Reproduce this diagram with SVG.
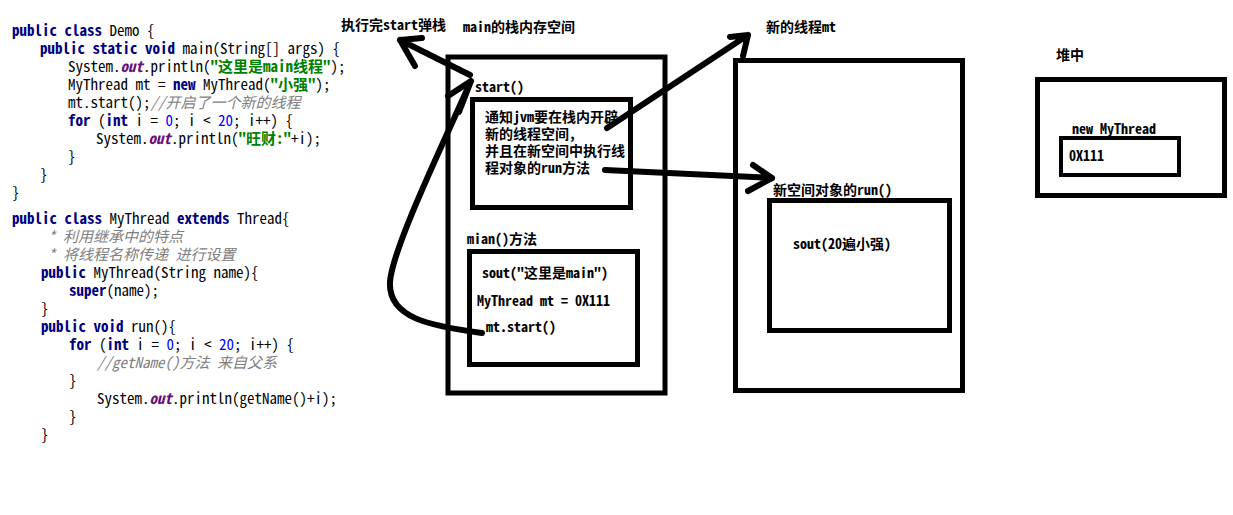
<svg xmlns="http://www.w3.org/2000/svg" width="1233" height="515" viewBox="0 0 1233 515">
<style>
.code{font-family:"Noto Sans Mono CJK SC","Liberation Mono","Noto Sans CJK SC",monospace;font-size:15px;fill:#000}
.k{fill:#000080;font-weight:bold}
.s{fill:#008000;font-weight:bold}
.n{fill:#0000ff}
.f{fill:#660e7a;font-weight:bold;font-style:italic}
.c{fill:#808080;font-style:italic}
.lbl{font-family:"Noto Sans Mono CJK SC","Liberation Mono","Noto Sans CJK SC",monospace;font-size:14px;font-weight:bold;fill:#000}
.box{fill:none;stroke:#000;stroke-width:5}
.arr{fill:none;stroke:#000;stroke-width:6;stroke-linecap:round;stroke-linejoin:round}
</style>
<rect width="1233" height="515" fill="#fff"/>
<g id="code">
<text class="code" xml:space="preserve"><tspan x="12" y="36"><tspan class="k">public class</tspan> Demo {</tspan><tspan x="40" y="54"><tspan class="k">public static void</tspan> main(String[] args) {</tspan><tspan x="68" y="72">System.<tspan class="f">out</tspan>.println(<tspan class="s">"这里是main线程"</tspan>);</tspan><tspan x="68" y="90">MyThread mt = <tspan class="k">new</tspan> MyThread(<tspan class="s">"小强"</tspan>);</tspan><tspan x="68" y="108">mt.start();<tspan class="c">//开启了一个新的线程</tspan></tspan><tspan x="68" y="126"><tspan class="k">for</tspan> (<tspan class="k">int</tspan> i = <tspan class="n">0</tspan>; i &lt; <tspan class="n">20</tspan>; i++) {</tspan><tspan x="96" y="144">System.<tspan class="f">out</tspan>.println(<tspan class="s">"旺财:"</tspan>+i);</tspan><tspan x="68" y="162">}</tspan><tspan x="40" y="180">}</tspan><tspan x="12" y="198">}</tspan></text>
<text class="code" xml:space="preserve"><tspan x="12" y="224"><tspan class="k">public class</tspan> MyThread <tspan class="k">extends</tspan> Thread{</tspan><tspan x="48" y="242" class="c">* 利用继承中的特点</tspan><tspan x="48" y="260" class="c">* 将线程名称传递 进行设置</tspan><tspan x="41" y="278"><tspan class="k">public</tspan> MyThread(String name){</tspan><tspan x="69" y="296"><tspan class="k">super</tspan>(name);</tspan><tspan x="41" y="314">}</tspan><tspan x="41" y="332"><tspan class="k">public void</tspan> run(){</tspan><tspan x="69" y="350"><tspan class="k">for</tspan> (<tspan class="k">int</tspan> i = <tspan class="n">0</tspan>; i &lt; <tspan class="n">20</tspan>; i++) {</tspan><tspan x="97" y="368" class="c">//getName()方法 来自父系</tspan><tspan x="69" y="386">}</tspan><tspan x="97" y="404">System.<tspan class="f">out</tspan>.println(getName()+i);</tspan><tspan x="69" y="422">}</tspan><tspan x="41" y="440">}</tspan></text>
</g>
<g id="main-stack">
<text class="lbl" x="463" y="32">main的栈内存空间</text>
<rect class="box" x="448" y="57" width="217" height="336"/>
</g>
<g id="start-frame">
<text class="lbl" x="475" y="92">start()</text>
<rect class="box" x="472.5" y="99.5" width="158" height="108"/>
<text class="lbl"><tspan x="485" y="122">通知jvm要在栈内开辟</tspan><tspan x="485" y="139">新的线程空间,</tspan><tspan x="485" y="156">并且在新空间中执行线</tspan><tspan x="485" y="173">程对象的run方法</tspan></text>
</g>
<g id="main-frame">
<text class="lbl" x="467" y="244">mian()方法</text>
<rect class="box" x="469.5" y="251.5" width="168" height="113"/>
<text class="lbl" x="482" y="278">sout("这里是main")</text>
<text class="lbl" x="477" y="306">MyThread mt = 0X111</text>
<text class="lbl" x="486" y="332">mt.start()</text>
</g>
<g id="popped-label">
<text class="lbl" x="341" y="30">执行完start弹栈</text>
</g>
<g id="thread-stack">
<text class="lbl" x="766" y="32">新的线程mt</text>
<rect class="box" x="735.5" y="60.5" width="227" height="330"/>
</g>
<g id="run-frame">
<text class="lbl" x="773" y="195">新空间对象的run()</text>
<rect class="box" x="769.5" y="200.5" width="180" height="130"/>
<text class="lbl" x="793" y="249">sout(20遍小强)</text>
</g>
<g id="heap">
<text class="lbl" x="1056" y="60">堆中</text>
<rect class="box" x="1037.5" y="79.5" width="187" height="116"/>
</g>
<g id="heap-object">
<text class="lbl" x="1072" y="134">new MyThread</text>
<rect class="box" x="1061" y="138" width="118" height="37" style="stroke-width:4"/>
<text class="lbl" x="1069" y="161">0X111</text>
</g>
<g id="connectors">
<path class="arr" d="M470,75 L400,40 M400,40 L422,38 M400,40 L415,66"/>
<path class="arr" d="M482,333 C430,326 388,318 390,282 C392,250 440,150 471,81 M471,81 L448,96 M471,81 L459,112"/>
<path class="arr" d="M607,128 L748,35 M748,35 L730,37 M748,35 L743,56"/>
<path class="arr" d="M605,170 C650,172 700,175 772,178 M772,178 L753,165 M772,178 L748,191"/>
</g>
</svg>
